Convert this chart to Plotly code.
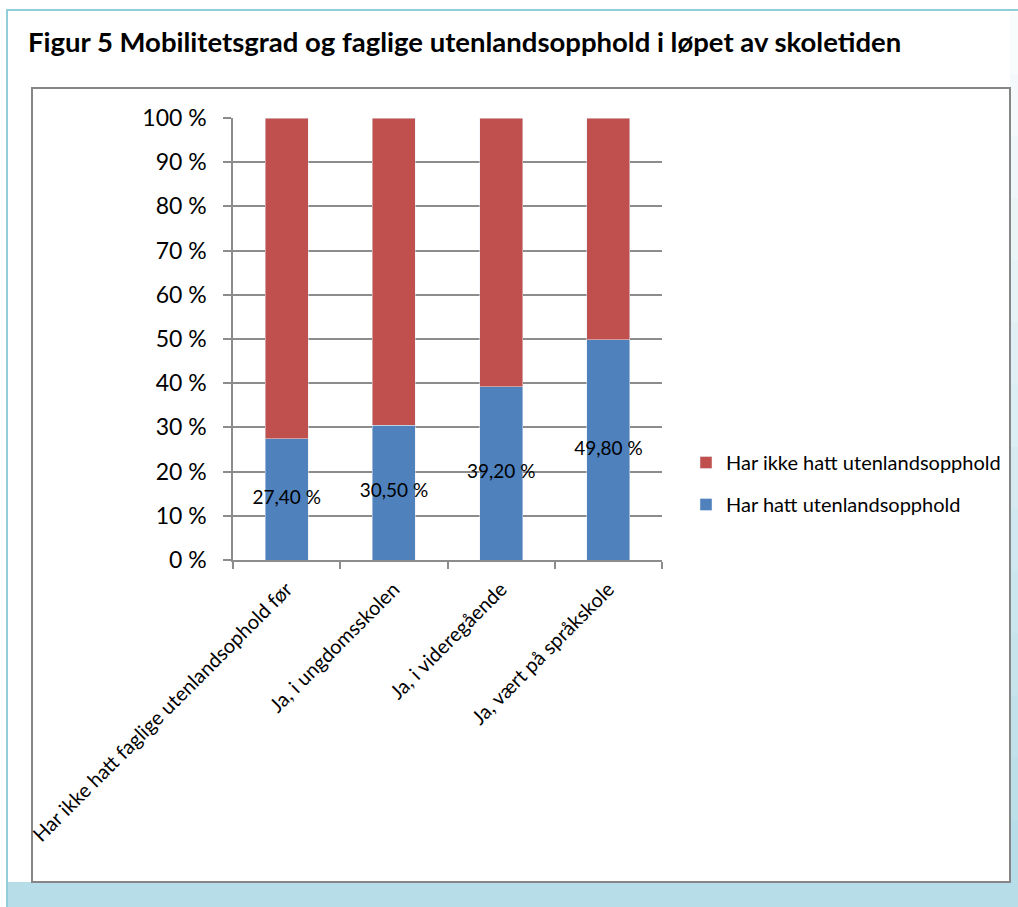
import plotly.graph_objects as go

categories = [
    "Har ikke hatt faglige utenlandsophold før",
    "Ja, i ungdomsskolen",
    "Ja, i videregående",
    "Ja, vært på språkskole",
]
har_hatt = [0.274, 0.305, 0.392, 0.498]
har_ikke_hatt = [1 - v for v in har_hatt]
data_labels = ["27,40 %", "30,50 %", "39,20 %", "49,80 %"]
ytick_vals = [0, 0.1, 0.2, 0.3, 0.4, 0.5, 0.6, 0.7, 0.8, 0.9, 1.0]
ytick_text = ["0 %", "10 %", "20 %", "30 %", "40 %", "50 %", "60 %", "70 %", "80 %", "90 %", "100 %"]

title = "Figur 5 Mobilitetsgrad og faglige utenlandsopphold i løpet av skoletiden"
name_blue = "Har hatt utenlandsopphold"
name_red = "Har ikke hatt utenlandsopphold"

W, H = 1018, 907
L, R, T, B = 233, 662, 118, 560
FONT = "Lato"

def px(x):
    return (x - L) / (R - L)

def py(y):
    return (B - y) / (B - T)

BLUE = "#4f81bd"
RED = "#c0504d"
GRID = "#8c8c8c"

fig = go.Figure()
fig.add_trace(go.Bar(x=categories, y=har_hatt, name=name_blue, marker_color=BLUE,
                     width=0.4, legendgroup="a", legendrank=2, hoverinfo="skip"))
fig.add_trace(go.Bar(x=categories, y=har_ikke_hatt, name=name_red, marker_color=RED,
                     width=0.4, legendgroup="b", legendrank=1, hoverinfo="skip"))
fig.add_trace(go.Scatter(x=categories, y=[v / 2 for v in har_hatt], text=data_labels,
                         mode="text", textfont=dict(family=FONT, size=19, color="#000"),
                         showlegend=False, hoverinfo="skip"))

shapes = []
# outer frame
shapes.append(dict(type="rect", xref="paper", yref="paper", x0=px(7), x1=px(1030),
                   y0=py(920), y1=py(10), fillcolor="white",
                   line=dict(color="#92cddc", width=2), layer="below"))
# right gradient band
steps = 14
c0 = (255, 255, 255)
c1 = (183, 221, 232)
for i in range(steps):
    t = (i + 1) / steps
    col = tuple(int(c0[k] + (c1[k] - c0[k]) * t) for k in range(3))
    y0 = 12 + (882 - 12) * i / steps
    y1 = 12 + (882 - 12) * (i + 1) / steps
    shapes.append(dict(type="rect", xref="paper", yref="paper", x0=px(1010), x1=px(1020),
                       y0=py(y1 + 1), y1=py(y0), fillcolor="rgb(%d,%d,%d)" % col,
                       line=dict(width=0), layer="below"))
# bottom band
shapes.append(dict(type="rect", xref="paper", yref="paper", x0=px(8), x1=px(1020),
                   y0=py(910), y1=py(882), fillcolor="#b7dde8",
                   line=dict(width=0), layer="below"))
# inner chart box
shapes.append(dict(type="rect", xref="paper", yref="paper", x0=px(32), x1=px(1010),
                   y0=py(882), y1=py(88), fillcolor="white",
                   line=dict(color="#868686", width=2), layer="below"))

fig.update_layout(
    width=W, height=H,
    margin=dict(l=L, r=W - R, t=T, b=H - B, pad=0, autoexpand=False),
    paper_bgcolor="white",
    plot_bgcolor="rgba(0,0,0,0)",
    barmode="stack",
    shapes=shapes,
    font=dict(family=FONT, color="#000"),
    title=dict(text="<b>" + title + "</b>", x=28 / W, xref="container", xanchor="left",
               y=1 - 42 / H, yref="container", yanchor="middle",
               font=dict(family=FONT, size=27.5, color="#000")),
    legend=dict(x=px(686), y=py(443), xanchor="left", yanchor="top",
                traceorder="grouped", tracegroupgap=13, itemwidth=30,
                font=dict(family=FONT, size=20, color="#000"),
                bgcolor="rgba(0,0,0,0)"),
    xaxis=dict(type="category", tickson="boundaries", ticks="outside", ticklen=7,
               tickcolor=GRID, tickwidth=1.5, showline=True, linecolor=GRID, linewidth=1.5,
               showgrid=False, tickangle=-45, tickfont=dict(family=FONT, size=20),
               ticklabelstandoff=8, range=[-0.5, 3.5], fixedrange=True, automargin=False),
    yaxis=dict(range=[0, 1], tickvals=ytick_vals, ticktext=ytick_text, ticks="outside",
               ticklen=8, tickcolor=GRID, tickwidth=1.5, showline=True, linecolor=GRID,
               linewidth=1.5, showgrid=True, gridcolor=GRID, gridwidth=1.5,
               zeroline=False, tickfont=dict(family=FONT, size=23),
               ticklabelstandoff=12, fixedrange=True, automargin=False),
)

fig.write_html("out.html", config={"displayModeBar": False},
               post_script="document.body.style.margin='0';")
